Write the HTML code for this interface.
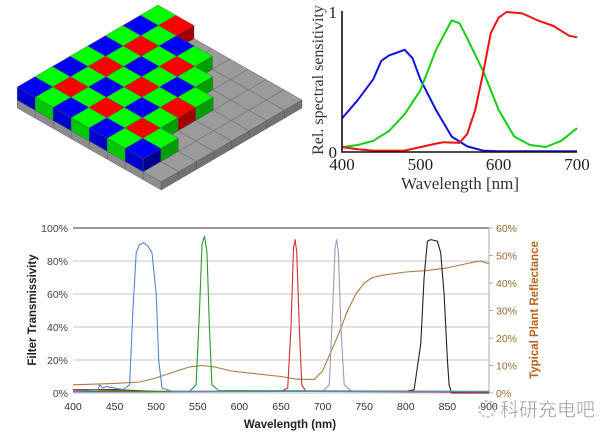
<!DOCTYPE html>
<html><head><meta charset="utf-8">
<style>
html,body{margin:0;padding:0;background:#fff;}
svg{display:block;}
</style></head>
<body>
<svg id="root" width="602" height="437" viewBox="0 0 602 437" xmlns="http://www.w3.org/2000/svg">
  <g id="bayer"></g>
  <g id="sens"></g>
  <g id="filt"></g>
  <g>
    <circle cx="487" cy="409" r="8" fill="none" stroke="#bbb" stroke-width="1.5" stroke-dasharray="3 2"/>
    <text x="500" y="416" font-family="'Liberation Sans','Noto Sans CJK SC',sans-serif" font-size="19" fill="#9a9a9a" stroke="#fff" stroke-width="0.4">科研充电吧</text>
  </g>
</svg>
<script>
// ---------- Spectral sensitivity data ----------
const blueW = [400,420,440,450,460,480,490,500,520,540,560,580,600,650,700];
const blueV = [0.24,0.37,0.52,0.65,0.69,0.73,0.67,0.52,0.30,0.11,0.04,0.01,0.005,0.005,0.005];
const greenW = [400,420,440,460,480,500,520,540,550,560,580,600,620,640,660,680,700];
const greenV = [0.035,0.05,0.08,0.15,0.27,0.44,0.73,0.94,0.92,0.81,0.58,0.30,0.11,0.05,0.036,0.08,0.17];
const redW = [400,420,440,480,500,520,530,550,560,570,580,590,600,610,630,650,670,690,700];
const redV = [0.035,0.02,0.01,0.01,0.035,0.06,0.07,0.065,0.13,0.30,0.56,0.85,0.96,1.0,0.99,0.94,0.90,0.83,0.82];
const sensXTicks = [400,500,600,700];

// ---------- Filter transmissivity data ----------
const fBlueW = [400,430,432,436,440,450,460,468,472,476,480,485,490,495,500,503,507,520,600,900];
const fBlueV = [1,2,5,3,4,3,2,5,50,85,90,91,89,85,60,20,3,1,1,1];
const fGreenW = [400,540,548,552,555,558,561,564,567,575,900];
const fGreenV = [1,1,5,50,90,95,85,40,5,1.5,1];
const fRedW = [400,450,500,650,658,662,665,667,669,672,675,680,900];
const fRedV = [2,1.5,1,1,3,40,88,93,85,40,5,1,0.5];
const fLavW = [400,700,708,712,715,717,719,722,726,735,900];
const fLavV = [0.5,1,5,50,88,93,85,40,5,1,0.5];
const fBlackW = [400,450,500,800,810,818,822,826,830,838,842,846,850,852,855,900];
const fBlackV = [2,2,1,1,2,30,70,92,93,92,85,60,20,5,0,0];
const plantW = [400,450,480,500,520,540,555,570,590,620,650,670,690,700,710,720,730,740,750,760,775,800,825,850,880,890,900];
const plantV = [3,3.5,4,5.5,7.5,9.5,10,9.5,8,7,6,5,5,8,15,22,30,36,40,42,43,44,44.5,45.5,47.5,48,47];
const fXTicks = [400,450,500,550,600,650,700,750,800,850,900];
const fLeftTicks = [0,20,40,60,80,100];
const fRightTicks = [0,10,20,30,40,50,60];

const NS = "http://www.w3.org/2000/svg";
function mk(tag, attrs, parent){
  const e = document.createElementNS(NS, tag);
  for (const k in attrs) e.setAttribute(k, attrs[k]);
  parent.appendChild(e);
  return e;
}
function txt(parent, x, y, s, size, fam, fill, anchor, rot){
  const t = mk('text', {x:x, y:y, 'font-size':size, 'font-family':fam, fill:fill, 'text-anchor':anchor||'middle'}, parent);
  if (rot) t.setAttribute('transform', 'rotate(-90 '+x+' '+y+')');
  t.textContent = s;
  return t;
}

// ---------- Bayer mosaic ----------
(function(){
  const g = document.getElementById('bayer');
  const O = [158,5], u = [18,10.25], v = [-17.6,10.25], h = 13, gs = 8, N = 8;
  const P = (i,j,dy) => [O[0]+i*u[0]+j*v[0], O[1]+i*u[1]+j*v[1]+(dy||0)];
  const poly = (pts, fill, name) => {
    const p = mk('polygon', {points: pts.map(q=>q[0].toFixed(1)+','+q[1].toFixed(1)).join(' '), fill: fill, stroke:'#555', 'stroke-width':0.4}, g);
    
    
    return p;
  };
  poly([P(0,0,h),P(N,0,h),P(N,N,h),P(0,N,h)], '#9b9b9b', 'base-top');
  poly([P(0,N,h),P(N,N,h),P(N,N,h+gs),P(0,N,h+gs)], '#8c8c8c', 'base-left-side');
  poly([P(N,N,h),P(N,0,h),P(N,0,h+gs),P(N,N,h+gs)], '#727272', 'base-right-side');
  for (let k=1;k<N;k++){
    const a=P(k,0,h), b=P(k,N,h), c=P(0,k,h), d=P(N,k,h);
    mk('line',{x1:a[0],y1:a[1],x2:b[0],y2:b[1],stroke:'#777','stroke-width':0.8},g);
    mk('line',{x1:c[0],y1:c[1],x2:d[0],y2:d[1],stroke:'#777','stroke-width':0.8},g);
    const e=P(k,N,h), f=P(N,k,h);
    mk('line',{x1:e[0],y1:e[1],x2:e[0],y2:e[1]+gs,stroke:'#666','stroke-width':0.6},g);
    mk('line',{x1:f[0],y1:f[1],x2:f[0],y2:f[1]+gs,stroke:'#555','stroke-width':0.6},g);
  }
  const L = [2,4,5,6,6,6,7,7];
  const cells = [];
  for (let j=0;j<N;j++) for (let i=0;i<L[j];i++) cells.push([i,j]);
  cells.sort((a,b)=>(a[0]+a[1])-(b[0]+b[1]));
  const cols = {G:['#00ff00','#00c800','#009e00'], R:['#ff0000','#d00000','#a00000'], B:['#0000ff','#0000cc','#00008e']};
  cells.forEach(([i,j])=>{
    const c = ((i+j)%2===0)?'G':(j%2===0?'R':'B');
    const cc = cols[c];
    poly([P(i,j),P(i+1,j),P(i+1,j+1),P(i,j+1)], cc[0], 'pixel-top-'+c);
    poly([P(i,j+1),P(i+1,j+1),P(i+1,j+1,h),P(i,j+1,h)], cc[1], 'pixel-left-'+c);
    poly([P(i+1,j+1),P(i+1,j),P(i+1,j,h),P(i+1,j+1,h)], cc[2], 'pixel-right-'+c);
  });
})();

// ---------- Spectral sensitivity chart ----------
(function(){
  const g = document.getElementById('sens');
  const xs = w => 342 + (w-400)*235/300;
  const ys = val => 152 - 140*val;
  const serif = "'Liberation Serif',serif";
  const line = (W,V,col,name)=>{
    const p = mk('polyline',{points: W.map((w,k)=>xs(w).toFixed(1)+','+ys(V[k]).toFixed(1)).join(' '), fill:'none', stroke:col,'stroke-width':2,'stroke-linejoin':'round'}, g);
    
    
  };
  line(blueW, blueV, '#1010e0', 'blue-sensitivity-line');
  line(greenW, greenV, '#10d010', 'green-sensitivity-line');
  line(redW, redV, '#f01010', 'red-sensitivity-line');
  const ax = mk('path',{d:'M342 11 V152 H577', fill:'none', stroke:'#111','stroke-width':1.6}, g);
  
  
  sensXTicks.forEach(w=>{
    const t = txt(g, xs(w), 170, String(w), 17, serif, '#222');
    
    
  });
  let t = txt(g, 337, 18, '1', 17, serif, '#222', 'end');
   
  t = txt(g, 337, 158, '0', 17, serif, '#222', 'end');
   
  t = txt(g, 460, 189, 'Wavelength [nm]', 17, serif, '#333');
   
  t = txt(g, 323, 80, 'Rel. spectral sensitivity', 16, serif, '#333', 'middle', true);
   
})();

// ---------- Filter transmissivity chart ----------
(function(){
  const g = document.getElementById('filt');
  const X0 = 73, X1 = 489, Y0 = 393, Y1 = 228;
  const xs = w => X0 + (w-400)*(X1-X0)/500;
  const yl = p => Y0 - (Y0-Y1)*p/100;
  const yr = p => Y0 - (Y0-Y1)*p/60;
  const sans = "'Liberation Sans',sans-serif";
  fLeftTicks.forEach(p=>{
    const l = mk('line',{x1:X0,y1:yl(p),x2:X1,y2:yl(p),stroke: p===100?'#9a9a9a':'#c4c4c4','stroke-width': p===100?2:1}, g);
    
    
    const t = txt(g, X0-5, yl(p)+4, p+'%', 10.5, sans, '#444', 'end');
    
    
  });
  const ra = mk('line',{x1:X1,y1:Y1,x2:X1,y2:Y0,stroke:'#aaa','stroke-width':1}, g);
  
  
  fRightTicks.forEach(p=>{
    mk('line',{x1:X1,y1:yr(p),x2:X1+4,y2:yr(p),stroke:'#aaa','stroke-width':1}, g);
    const t = txt(g, X1+7, yr(p)+4, p+'%', 10.5, sans, '#a0682e', 'start');
    
    
  });
  fXTicks.forEach(w=>{
    const t = txt(g, xs(w), 410, String(w), 10.5, sans, '#333');
    
    
  });
  const line = (W,V,col,yf,name)=>{
    const p = mk('polyline',{points: W.map((w,k)=>xs(w).toFixed(1)+','+yf(V[k]).toFixed(1)).join(' '), fill:'none', stroke:col,'stroke-width':1.1,'stroke-linejoin':'round'}, g);
    
    
  };
  line(plantW, plantV, '#b07a40', yr, 'plant-reflectance-line');
  line(fBlackW, fBlackV, '#222', yl, 'nir-filter-line');
  line(fLavW, fLavV, '#9a9ac8', yl, 'red-edge-filter-line');
  line(fRedW, fRedV, '#d03030', yl, 'red-filter-line');
  line(fGreenW, fGreenV, '#2a9a2a', yl, 'green-filter-line');
  line(fBlueW, fBlueV, '#5a84d0', yl, 'blue-filter-line');
  let t = txt(g, 290, 428, 'Wavelength (nm)', 11.5, sans, '#222');
  t.setAttribute('font-weight','bold');
   
  t = txt(g, 36, 310, 'Filter Transmissivity', 11.5, sans, '#222', 'middle', true);
  t.setAttribute('font-weight','bold');
   
  t = txt(g, 538, 310, 'Typical Plant Reflectance', 11.5, sans, '#b8641c', 'middle', true);
  t.setAttribute('font-weight','bold');
   
})();
</script>
</body></html>
